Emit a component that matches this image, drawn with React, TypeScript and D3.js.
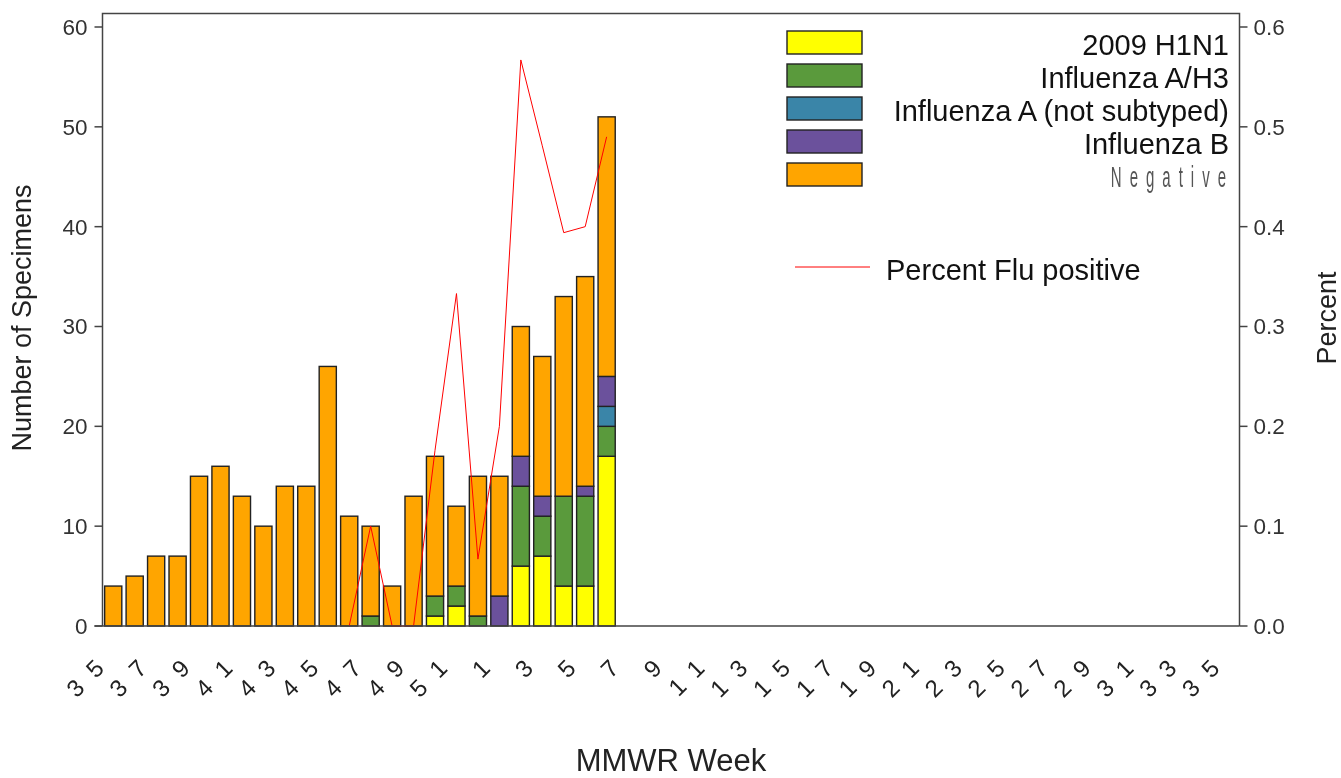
import React, { useRef, useEffect } from 'react';
import * as d3 from 'd3';

// MMWR weeks on the x axis (2009-2010 season)
const weeks = [
    '35', '36', '37', '38', '39', '40', '41', '42', '43', '44', '45', '46', '47', '48', '49', '50', '51', '52',
    '1', '2', '3', '4', '5', '6', '7', '8', '9', '10', '11', '12', '13', '14', '15', '16', '17', '18', '19',
    '20', '21', '22', '23', '24', '25', '26', '27', '28', '29', '30', '31', '32', '33', '34', '35'
];

// counts per week, weeks 35 .. 6
const h1n1 = [0, 0, 0, 0, 0, 0, 0, 0, 0, 0, 0, 0, 0, 0, 0, 1, 2, 0, 0, 6, 7, 4, 4, 17];
const h3 = [0, 0, 0, 0, 0, 0, 0, 0, 0, 0, 0, 0, 1, 0, 0, 2, 2, 1, 0, 8, 4, 9, 9, 3];
const aNotSubtyped = [0, 0, 0, 0, 0, 0, 0, 0, 0, 0, 0, 0, 0, 0, 0, 0, 0, 0, 0, 0, 0, 0, 0, 2];
const fluB = [0, 0, 0, 0, 0, 0, 0, 0, 0, 0, 0, 0, 0, 0, 0, 0, 0, 0, 3, 3, 2, 0, 1, 3];
const negative = [4, 5, 7, 7, 15, 16, 13, 10, 14, 14, 26, 11, 9, 4, 13, 14, 8, 14, 12, 13, 14, 20, 21, 26];

// percent flu positive, weeks 46 .. 6
const pctStart = 11;
const pctPositive = [0, 0.1, 0, 0, 0.176, 0.333, 0.067, 0.2, 0.567, 0.481, 0.394, 0.4, 0.49];

const seriesNames = ['2009 H1N1', 'Influenza A/H3', 'Influenza A (not subtyped)', 'Influenza B', 'Negative'];
const seriesColors = ['#ffff00', '#5a9a3c', '#3a85a8', '#6b519c', '#ffa500'];
const leftTicks = [0, 10, 20, 30, 40, 50, 60];
const rightTicks = [0, 0.1, 0.2, 0.3, 0.4, 0.5, 0.6];

const FONT = '"Liberation Sans", Arial, sans-serif';

const FluChart: React.FC = () => {
    const ref = useRef<HTMLDivElement>(null);

    useEffect(() => {
        const container = d3.select(ref.current);
        container.selectAll("*").remove();

        const W = 1341, H = 778;
        const left = 102.5, right = 1239.5, top = 13.5, bottom = 626;

        const svg = container.append("svg")
            .attr("width", W)
            .attr("height", H)
            .style("display", "block")
            .style("font-family", FONT);

        const x = d3.scaleBand<number>()
            .domain(d3.range(weeks.length))
            .range([left, right])
            .paddingInner(0.2)
            .paddingOuter(0.1);

        const y = d3.scaleLinear().domain([0, 60]).range([bottom, 27]);
        const y2 = d3.scaleLinear().domain([0, 0.6]).range([bottom, 27]);

        // stacked bars
        const rows = negative.map((_, i) => ({
            i,
            s0: h1n1[i], s1: h3[i], s2: aNotSubtyped[i], s3: fluB[i], s4: negative[i]
        }));
        const stack = d3.stack<any>().keys(['s0', 's1', 's2', 's3', 's4']);
        const layers = stack(rows);

        const g = svg.append("g");
        layers.forEach((layer, k) => {
            g.selectAll(`.bar-${k}`)
                .data(layer.filter(d => d[1] > d[0]))
                .enter()
                .append("rect")
                .attr("x", d => x(d.data.i)!)
                .attr("width", x.bandwidth())
                .attr("y", d => y(d[1]))
                .attr("height", d => y(d[0]) - y(d[1]))
                .attr("fill", seriesColors[k])
                .attr("stroke", "#222")
                .attr("stroke-width", 1.4);
        });

        // percent positive line
        const line = d3.line<number>()
            .x((_, j) => x(pctStart + j)! + x.bandwidth() / 2)
            .y(d => y2(d));
        svg.append("path")
            .datum(pctPositive)
            .attr("d", line)
            .attr("fill", "none")
            .attr("stroke", "#ff0000")
            .attr("stroke-width", 1);

        // frame
        const axisColor = "#444";
        svg.append("path")
            .attr("d", `M${left},${bottom}V${top}H${right}V${bottom}M${left - 8},${bottom}H${right}`)
            .attr("fill", "none")
            .attr("stroke", axisColor)
            .attr("stroke-width", 1.5);

        // left axis
        leftTicks.forEach(t => {
            svg.append("line")
                .attr("x1", left - 8).attr("x2", left)
                .attr("y1", y(t)).attr("y2", y(t))
                .attr("stroke", axisColor).attr("stroke-width", 1.5);
            svg.append("text")
                .attr("x", left - 15)
                .attr("y", y(t))
                .attr("dy", "0.35em")
                .attr("text-anchor", "end")
                .style("font-size", "22.5px")
                .style("fill", "#333")
                .text(t);
        });

        // right axis
        rightTicks.forEach(t => {
            svg.append("line")
                .attr("x1", right).attr("x2", right + 8)
                .attr("y1", y2(t)).attr("y2", y2(t))
                .attr("stroke", axisColor).attr("stroke-width", 1.5);
            svg.append("text")
                .attr("x", right + 14)
                .attr("y", y2(t))
                .attr("dy", "0.35em")
                .style("font-size", "22.5px")
                .style("fill", "#333")
                .text(t.toFixed(1));
        });

        // x labels, every other week
        weeks.forEach((w, i) => {
            if (i % 2 !== 0) return;
            const cx = x(i)! + x.bandwidth() / 2 + 2;
            const cy = 660;
            svg.append("text")
                .attr("transform", `translate(${cx},${cy}) rotate(-45)`)
                .attr("text-anchor", "end")
                .style("font-size", "24px")
                .style("letter-spacing", "14px")
                .style("fill", "#222")
                .text(w);
        });

        // axis titles
        svg.append("text")
            .attr("transform", `translate(31,318) rotate(-90)`)
            .attr("text-anchor", "middle")
            .style("font-size", "27px")
            .style("fill", "#222")
            .text("Number of Specimens");
        svg.append("text")
            .attr("transform", `translate(1336,318) rotate(-90)`)
            .attr("text-anchor", "middle")
            .style("font-size", "27px")
            .style("fill", "#222")
            .text("Percent");
        svg.append("text")
            .attr("x", 671)
            .attr("y", 771)
            .attr("text-anchor", "middle")
            .style("font-size", "31px")
            .style("fill", "#222")
            .text("MMWR Week");

        // legend
        const legendY = d3.scaleBand<number>().domain(d3.range(seriesNames.length)).range([30, 195]);
        seriesNames.forEach((name, k) => {
            const ly = legendY(k)!;
            svg.append("rect")
                .attr("x", 787).attr("y", ly + 1)
                .attr("width", 75).attr("height", 23)
                .attr("fill", seriesColors[k])
                .attr("stroke", "#222").attr("stroke-width", 1.4);
            if (k < 4) {
                svg.append("text")
                    .attr("x", 1229).attr("y", ly + 24.5)
                    .attr("text-anchor", "end")
                    .style("font-size", "29px")
                    .style("fill", "#111")
                    .text(name);
            } else {
                svg.append("text")
                    .attr("transform", `translate(${1229 + 5},${ly + 25}) scale(0.5,1)`)
                    .attr("text-anchor", "end")
                    .style("font-size", "30px")
                    .style("letter-spacing", "16px")
                    .style("fill", "#555")
                    .text(name);
            }
        });

        svg.append("line")
            .attr("x1", 795).attr("x2", 870)
            .attr("y1", 267).attr("y2", 267)
            .attr("stroke", "#ff0000").attr("stroke-width", 1);
        svg.append("text")
            .attr("x", 886).attr("y", 280)
            .style("font-size", "29px")
            .style("fill", "#111")
            .text("Percent Flu positive");
    }, []);

    return <div ref={ref} style={{ position: 'fixed', left: 0, top: 0 }} />;
};

export default function App() {
    return <FluChart />;
}
